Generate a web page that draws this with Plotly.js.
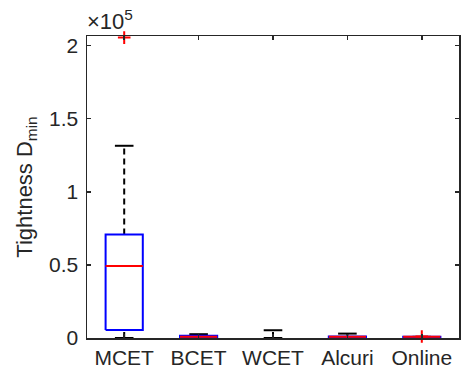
<!DOCTYPE html>
<html><head><meta charset="utf-8">
<script src="https://cdn.plot.ly/plotly-3.0.1.min.js"></script>
<style>html,body{margin:0;padding:0;background:#fff}</style>
</head><body><div id="chart" style="width:461px;height:369px"></div>
<script>
const categories = ['MCET', 'BCET', 'WCET', 'Alcuri', 'Online'];
const lowerWhisker = [0, 0, 0, 0, 0];
const q1 = [5500, 0, 0, 0, 0];
const median = [49300, 900, null, 900, 800];
const q3 = [70800, 1600, 0, 1100, 800];
const upperWhisker = [131500, 2600, 5300, 3000, 800];
const outliers = [[205500], [], [], [], [1000]];
const yTickVals = [0, 50000, 100000, 150000, 200000];
const yTickText = ['0', '0.5', '1', '1.5', '2'];

const BOXW = 0.25, CAPW = 0.125;
const traces = [];
const dark = '#000000';
categories.forEach((c, i) => {
  const x = i + 1;
  // whiskers
  traces.push({x: [x, x], y: [q3[i], upperWhisker[i]], mode: 'lines', line: {color: dark, width: 2, dash: '6px,4px'}, hoverinfo: 'skip'});
  traces.push({x: [x, x], y: [lowerWhisker[i], q1[i]], mode: 'lines', line: {color: dark, width: 2, dash: '6px,4px'}, hoverinfo: 'skip'});
  // caps
  traces.push({x: [x - CAPW, x + CAPW], y: [upperWhisker[i], upperWhisker[i]], mode: 'lines', line: {color: dark, width: 2}, hoverinfo: 'skip'});
  traces.push({x: [x - CAPW, x + CAPW], y: [lowerWhisker[i], lowerWhisker[i]], mode: 'lines', line: {color: dark, width: 2}, hoverinfo: 'skip'});
  if (median[i] !== null) {
    // box
    traces.push({x: [x - BOXW, x + BOXW, x + BOXW, x - BOXW, x - BOXW], y: [q1[i], q1[i], q3[i], q3[i], q1[i]], mode: 'lines', line: {color: '#0000ff', width: 2}, hoverinfo: 'skip'});
    // median
    traces.push({x: [x - BOXW, x + BOXW], y: [median[i], median[i]], mode: 'lines', line: {color: '#ff0000', width: 2}, hoverinfo: 'skip'});
  }
  // outliers
  if (outliers[i].length) {
    traces.push({x: outliers[i].map(() => x), y: outliers[i], mode: 'markers', cliponaxis: false,
      marker: {symbol: 'cross-thin-open', size: 9, color: '#ff0000', line: {color: '#ff0000', width: 2}}, hoverinfo: 'skip'});
  }
});

const font = {family: 'Liberation Sans, Arial, sans-serif', size: 21, color: '#262626'};
const titleFont = {family: 'Liberation Sans, Arial, sans-serif', size: 22, color: '#262626'};
const layout = {
  width: 461, height: 369,
  margin: {l: 87, r: 2, t: 36, b: 31, pad: 0},
  showlegend: false,
  paper_bgcolor: '#ffffff', plot_bgcolor: '#ffffff',
  font: font,
  xaxis: {
    range: [0.5, 5.5], tickvals: categories.map((c, i) => i + 1), ticktext: categories,
    showgrid: false, zeroline: false, showline: true, mirror: 'ticks', linecolor: '#262626', linewidth: 1.5,
    ticks: 'inside', ticklen: 4, tickcolor: '#262626', tickwidth: 1.5, tickfont: font, fixedrange: true
  },
  yaxis: {
    range: [0, 206600], tickvals: yTickVals, ticktext: yTickText,
    showgrid: false, zeroline: false, showline: true, mirror: 'ticks', linecolor: '#262626', linewidth: 1.5,
    ticks: 'inside', ticklen: 4, tickcolor: '#262626', tickwidth: 1.5, tickfont: font, ticklabelstandoff: 3,
    title: {text: 'Tightness D<sub>min</sub>', font: titleFont, standoff: 10}, fixedrange: true
  },
  annotations: [{
    xref: 'paper', yref: 'paper', x: 0, y: 1, xanchor: 'left', yanchor: 'bottom', yshift: 0, xshift: -2,
    text: '×10<sup>5</sup>', showarrow: false, font: titleFont
  }]
};
Plotly.newPlot('chart', traces, layout, {displayModeBar: false, staticPlot: true});
</script>
</body></html>
